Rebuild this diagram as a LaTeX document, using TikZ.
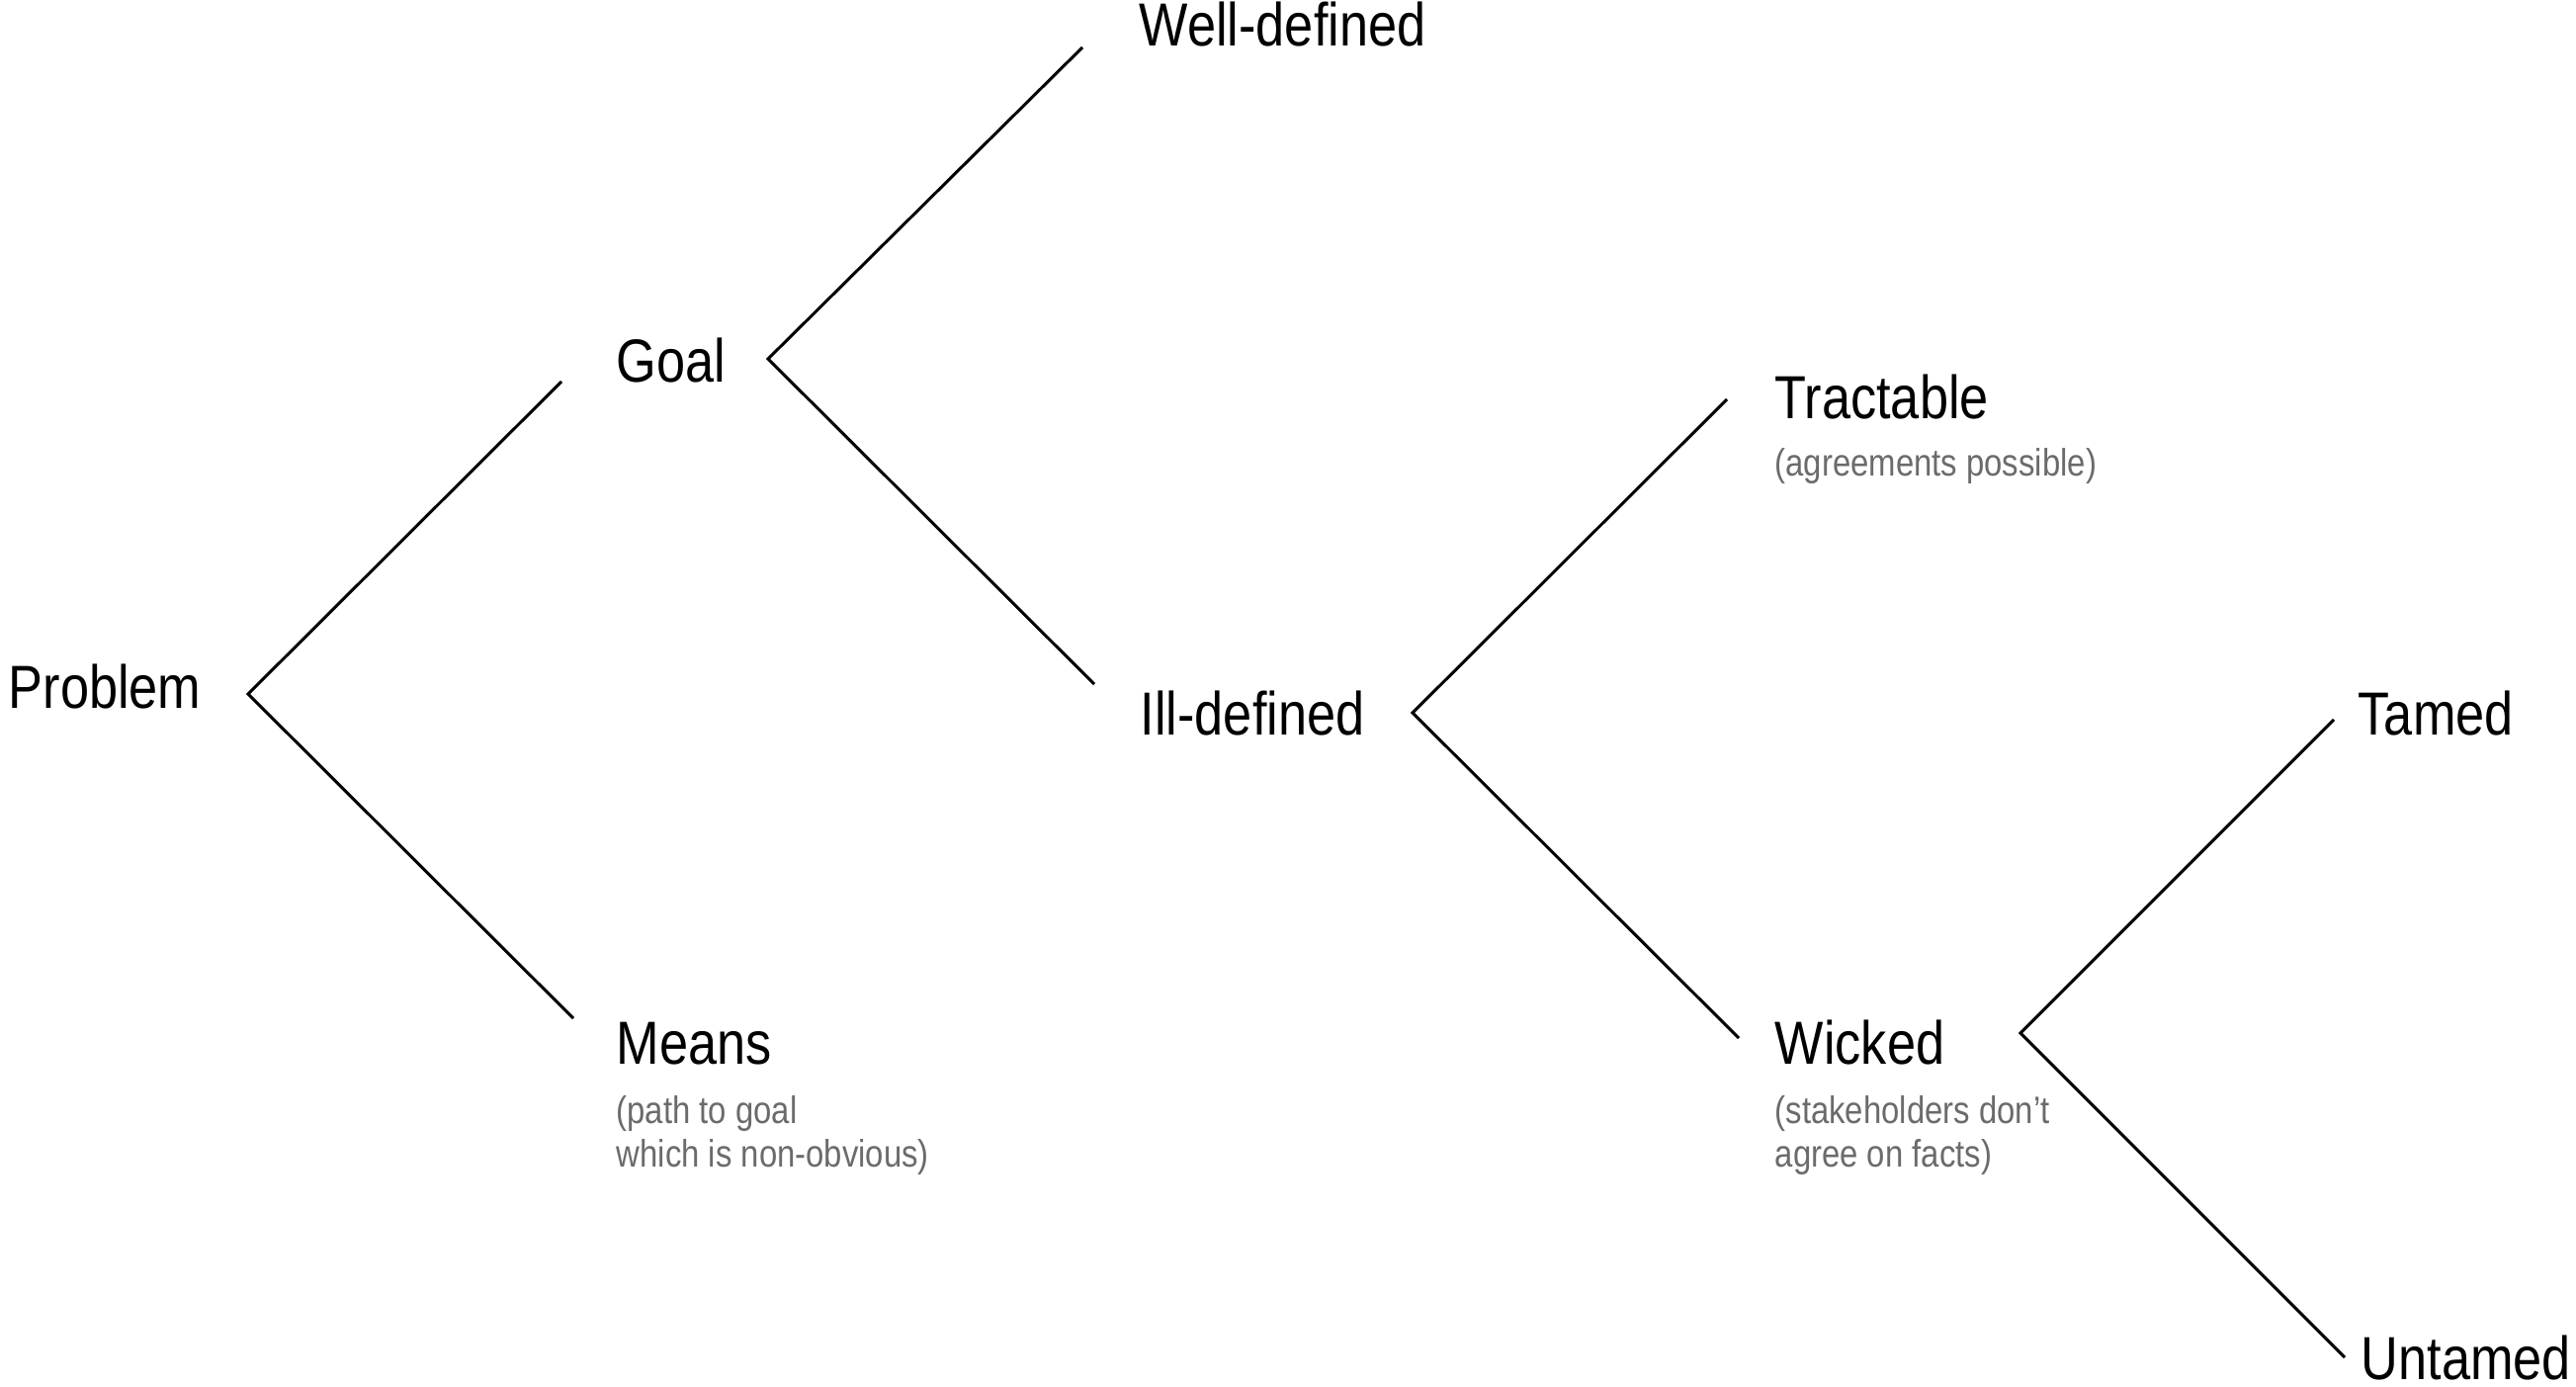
\documentclass[tikz,border=0pt]{standalone}
\usepackage{fontspec}
\setmainfont{Liberation Sans}[FakeStretch=0.85]
\usetikzlibrary{positioning}
\definecolor{notegray}{HTML}{6B6B6B}

\begin{document}
\begin{tikzpicture}[x=0.01cm, y=-0.01cm,
  term/.style={inner sep=0pt, anchor=base west, font=\fontsize{17.5}{21}\selectfont},
  note/.style={inner sep=0pt, anchor=base west, align=left, text=notegray, font=\fontsize{11}{12.4}\selectfont},
  branch/.style={line width=0.85pt}]
  \useasboundingbox (0,0) rectangle (2606,1403);
  % terms
  \node (problem) [term] at (8,716) {Problem};
  \node (goal) [term] at (623,386) {Goal};
  \node (means) [term] at (623,1076) {Means};
  \node (welldef) [term] at (1152,47) {Well-defined};
  \node (illdef) [term] at (1153,743) {Ill-defined};
  \node (tractable) [term] at (1795,423) {Tractable};
  \node (wicked) [term] at (1795,1076) {Wicked};
  \node (tamed) [term] at (2385,743) {Tamed};
  \node (untamed) [term] at (2388,1395) {Untamed};
  % notes (base is the last line)
  \node (meansnote) [note] at ([shift={(0,104)}]means.base west) {(path to goal\\which is non-obvious)};
  \node (tractablenote) [note] at ([shift={(0,58)}]tractable.base west) {(agreements possible)};
  \node (wickednote) [note] at ([shift={(0,104)}]wicked.base west) {(stakeholders don’t\\agree on facts)};
  % forks
  \coordinate (pfork) at (251,702);
  \coordinate (gfork) at (777,363);
  \coordinate (ifork) at (1429,721);
  \coordinate (wfork) at (2044,1045);
  \draw[branch] ([shift={(-55,0)}]goal.base west) -- (pfork) -- ([shift={(-43,-46)}]means.base west);
  \draw[branch] ([shift={(-57,1)}]welldef.base west) -- (gfork) -- ([shift={(-46,-51)}]illdef.base west);
  \draw[branch] ([shift={(-48,-19)}]tractable.base west) -- (ifork) -- ([shift={(-36,-26)}]wicked.base west);
  \draw[branch] ([shift={(-24,-15)}]tamed.base west) -- (wfork) -- ([shift={(-16,-22)}]untamed.base west);
\end{tikzpicture}
\end{document}
